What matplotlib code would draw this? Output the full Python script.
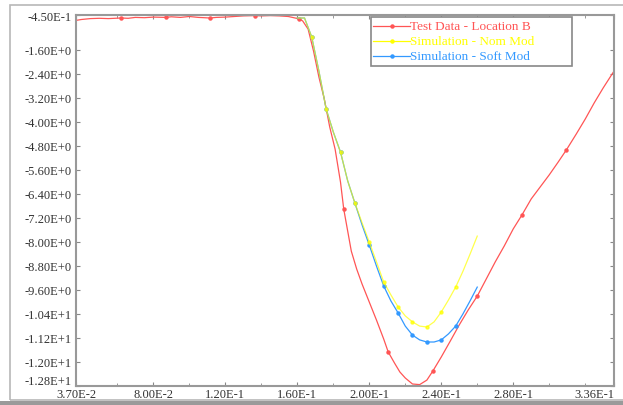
import matplotlib
matplotlib.use("Agg")
import matplotlib.pyplot as plt
import matplotlib.transforms as mtransforms
from matplotlib.lines import Line2D
from matplotlib.patches import Rectangle
import numpy as np

plt.rcParams["font.family"] = ["Liberation Serif", "DejaVu Serif"]

# Test data - location B
red_x = [0.0370, 0.0400, 0.0450, 0.0500, 0.0550, 0.0620, 0.0660, 0.0700, 0.0750, 0.0800,
         0.0868, 0.0900, 0.0950, 0.1000, 0.1050, 0.1115, 0.1150, 0.1200, 0.1250, 0.1300,
         0.1363, 0.1400, 0.1450, 0.1500, 0.1550, 0.1610, 0.1630, 0.1660, 0.1690, 0.1720,
         0.1750, 0.1780, 0.1810, 0.1840, 0.1858, 0.1900, 0.1930, 0.1960, 0.2000, 0.2040,
         0.2080, 0.2105, 0.2140, 0.2170, 0.2200, 0.2240, 0.2280, 0.2320, 0.2353, 0.2400,
         0.2450, 0.2500, 0.2550, 0.2600, 0.2650, 0.2700, 0.2750, 0.2800, 0.2848, 0.2900,
         0.2950, 0.3000, 0.3050, 0.3095, 0.3150, 0.3200, 0.3250, 0.3300, 0.3360]
red_y = [-0.63, -0.60, -0.57, -0.56, -0.57, -0.55, -0.56, -0.53, -0.54, -0.52,
         -0.53, -0.51, -0.53, -0.50, -0.53, -0.55, -0.53, -0.52, -0.50, -0.48,
         -0.47, -0.48, -0.47, -0.48, -0.50, -0.58, -0.65, -0.92, -1.65, -2.52,
         -3.25, -4.18, -4.92, -6.02, -6.92, -8.32, -8.92, -9.42, -10.02, -10.62,
         -11.25, -11.68, -12.05, -12.35, -12.55, -12.75, -12.77, -12.62, -12.32, -11.85,
         -11.32, -10.78, -10.28, -9.82, -9.25, -8.68, -8.15, -7.58, -7.12, -6.58,
         -6.18, -5.78, -5.35, -4.95, -4.42, -3.92, -3.38, -2.88, -2.32]
red_marks = [0.0620, 0.0868, 0.1115, 0.1363, 0.1610, 0.1858, 0.2105, 0.2353, 0.2600, 0.2848, 0.3095]

# Simulations
sim_x = [0.160, 0.164, 0.168, 0.172, 0.176, 0.180, 0.184, 0.188, 0.192, 0.196,
         0.200, 0.204, 0.208, 0.212, 0.216, 0.220, 0.224, 0.228, 0.232, 0.236,
         0.240, 0.244, 0.248, 0.252, 0.256, 0.260]
nom_y = [-0.55, -0.55, -1.18, -2.32, -3.58, -4.35, -5.02, -5.98, -6.72, -7.38,
         -8.02, -8.68, -9.35, -9.78, -10.18, -10.48, -10.68, -10.82, -10.85, -10.68,
         -10.35, -9.95, -9.52, -9.00, -8.42, -7.82]
soft_y = [-0.55, -0.55, -1.18, -2.32, -3.58, -4.35, -5.02, -5.98, -6.72, -7.45,
          -8.12, -8.82, -9.48, -9.98, -10.38, -10.82, -11.12, -11.28, -11.35, -11.35,
          -11.28, -11.08, -10.82, -10.42, -9.98, -9.52]

labels = ["Test Data - Location B", "Simulation - Nom Mod", "Simulation - Soft Mod"]
colors = ["#ff5555", "#ffff00", "#3399ff"]

x_ticks = [0.037, 0.08, 0.12, 0.16, 0.20, 0.24, 0.28, 0.336]
x_labels = ["3.70E-2", "8.00E-2", "1.20E-1", "1.60E-1", "2.00E-1", "2.40E-1", "2.80E-1", "3.36E-1"]
x_minor = [0.06, 0.10, 0.14, 0.18, 0.22, 0.26, 0.30, 0.32]
y_ticks = [-0.45, -1.6, -2.4, -3.2, -4.0, -4.8, -5.6, -6.4, -7.2, -8.0, -8.8, -9.6,
           -10.4, -11.2, -12.0, -12.8]
y_labels = ["-4.50E-1", "-1.60E+0", "-2.40E+0", "-3.20E+0", "-4.00E+0", "-4.80E+0",
            "-5.60E+0", "-6.40E+0", "-7.20E+0", "-8.00E+0", "-8.80E+0", "-9.60E+0",
            "-1.04E+1", "-1.12E+1", "-1.20E+1", "-1.28E+1"]

W, H = 623, 406
fig = plt.figure(figsize=(W / 100, H / 100), dpi=100)
ax = fig.add_axes([76 / W, 1 - 386.5 / H, (614 - 76) / W, (386.5 - 16) / H])


def px(x, y):
    # pixel position (from top-left) -> figure fraction
    return x / W, 1 - y / H


# outer frame like the original screen grab
fig.patches.append(Rectangle(px(10, 401), 1.2, 395 / H, transform=fig.transFigure,
                             fill=False, edgecolor="#b8b8b8", linewidth=1.2))
fig.patches.append(Rectangle((0, 0), 1, 4 / H, transform=fig.transFigure,
                             facecolor="#9a9a9a", edgecolor="none"))

red_idx = [int(np.argmin(np.abs(np.array(red_x) - m))) for m in red_marks]
ax.plot(red_x, red_y, color=colors[0], lw=0.9, marker="o", ms=2.2, markevery=red_idx)
mk = list(range(2, 23, 2))
ax.plot(sim_x, soft_y, color=colors[2], lw=0.9, marker="o", ms=2.2, markevery=mk)
ax.plot(sim_x, nom_y, color=colors[1], lw=0.9, marker="o", ms=2.2, markevery=mk, alpha=0.7)

ax.set_xlim(0.037, 0.336)
ax.set_ylim(-12.8, -0.45)
ax.set_xticks(x_ticks)
ax.set_xticklabels(x_labels)
ax.set_xticks(x_minor, minor=True)
ax.set_yticks(y_ticks)
ax.set_yticklabels(y_labels)
ax.tick_params(which="both", direction="in", top=True, right=True, length=3,
               color="#888888", labelsize=9, labelcolor="#333333", pad=3)
ax.tick_params(axis="x", pad=1.5)
ax.tick_params(which="minor", length=2)
xt = ax.get_xticklabels()
xt[-1].set_horizontalalignment("right")
# lift the bottom y label a bit, as in the original, so it clears the x labels
yt = ax.get_yticklabels()
yt[-1].set_transform(yt[-1].get_transform() +
                     mtransforms.ScaledTranslation(0, 4 / 72, fig.dpi_scale_trans))
for s in ax.spines.values():
    s.set_color("#999999")
    s.set_linewidth(1.5)

# legend box drawn by hand so it keeps the wide original frame
fig.patches.append(Rectangle(px(371, 67), 201 / W, 49 / H, transform=fig.transFigure,
                             facecolor="white", edgecolor="#888888", linewidth=1.2, zorder=5))
for i, (lab, c) in enumerate(zip(labels, colors)):
    yy = 27 + 15 * i
    x0, y0 = px(373, yy)
    x1, _ = px(410, yy)
    xm, _ = px(392, yy)
    fig.add_artist(Line2D([x0, x1], [y0, y0], color=c, lw=0.9, zorder=6))
    fig.add_artist(Line2D([xm], [y0], color=c, marker="o", ms=2.2, zorder=6))
    fig.text(x1, y0, lab, color=c, fontsize=9.5, va="center", ha="left", zorder=6)

fig.savefig("out.png", dpi=100)
